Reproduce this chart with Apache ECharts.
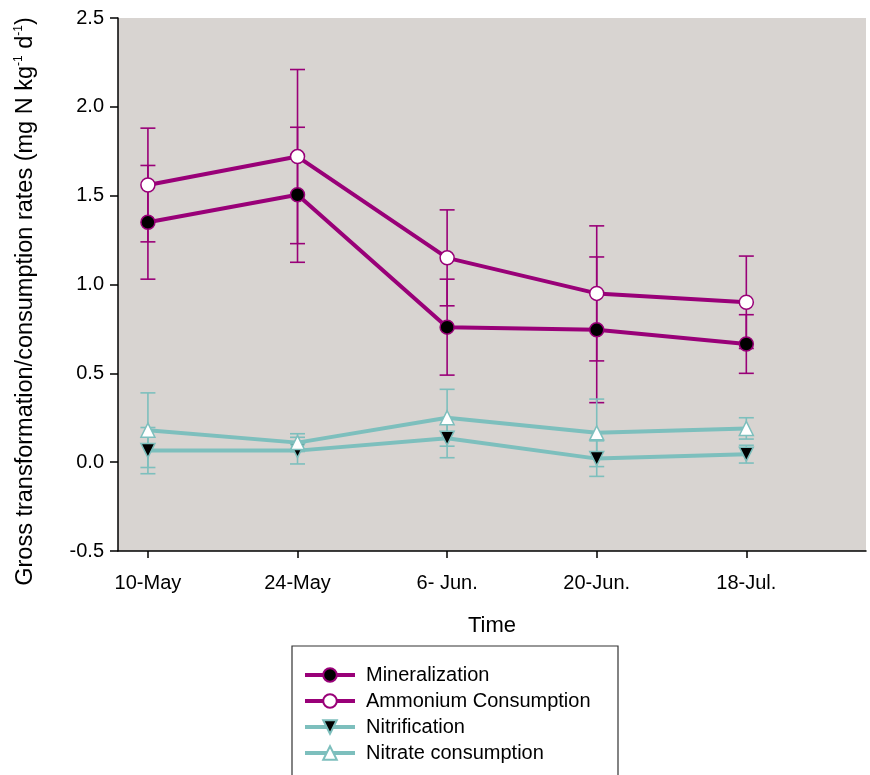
<!DOCTYPE html>
<html>
<head>
<meta charset="utf-8">
<script src="https://cdn.jsdelivr.net/npm/echarts@6/dist/echarts.min.js"></script>
<style>html,body{margin:0;padding:0;background:#fff;}#c{width:870px;height:775px;}</style>
</head>
<body>
<div id="c"></div>
<script>
const categories = ['10-May', '24-May', '6- Jun.', '20-Jun.', '18-Jul.'];
const yTicks = [-0.5, 0, 0.5, 1.0, 1.5, 2.0, 2.5];

const mineralization = [1.35, 1.505, 0.76, 0.745, 0.665];
const mineralizationErr = [0.32, 0.38, 0.27, 0.41, 0.165];
const ammonium = [1.56, 1.72, 1.15, 0.95, 0.90];
const ammoniumErr = [0.32, 0.49, 0.27, 0.38, 0.26];
const nitrification = [0.065, 0.065, 0.135, 0.02, 0.045];
const nitrificationErr = [0.13, 0.075, 0.11, 0.10, 0.05];
const nitrate = [0.18, 0.11, 0.25, 0.165, 0.19];
const nitrateErr = [0.21, 0.05, 0.16, 0.19, 0.06];

const MAG = '#990078';
const CYAN = '#7dbfbd';
const FONT = '"Liberation Sans", Arial, sans-serif';

function errSeries(id, values, errs, color) {
  return {
    type: 'custom',
    name: id,
    silent: true,
    z: 1,
    data: values.map((v, i) => [i, v - errs[i], v + errs[i]]),
    encode: { x: 0, y: [1, 2] },
    renderItem: function (params, api) {
      const x = api.value(0);
      const lo = api.coord([x, api.value(1)]);
      const hi = api.coord([x, api.value(2)]);
      const hw = 7.5;
      const st = { stroke: color, lineWidth: 1.6 };
      return {
        type: 'group',
        children: [
          { type: 'line', shape: { x1: lo[0], y1: lo[1], x2: hi[0], y2: hi[1] }, style: st },
          { type: 'line', shape: { x1: lo[0] - hw, y1: lo[1], x2: lo[0] + hw, y2: lo[1] }, style: st },
          { type: 'line', shape: { x1: hi[0] - hw, y1: hi[1], x2: hi[0] + hw, y2: hi[1] }, style: st }
        ]
      };
    }
  };
}

function lineSeries(name, values, color, symbol, fill, rotate) {
  return {
    type: 'line',
    name: name,
    z: 3,
    data: values.map((v, i) => [i, v]),
    symbol: symbol,
    symbolSize: 14,
    symbolRotate: rotate || 0,
    showAllSymbol: true,
    lineStyle: { color: color, width: 4 },
    itemStyle: { color: fill, borderColor: color, borderWidth: 1.5 },
    emphasis: { disabled: true },
    animation: false
  };
}

const chart = echarts.init(document.getElementById('c'), null, { renderer: 'canvas' });
chart.setOption({
  backgroundColor: '#ffffff',
  animation: false,
  textStyle: { fontFamily: FONT },
  grid: {
    left: 118, right: 4, top: 18, bottom: 224,
    containLabel: false,
    outerBoundsMode: 'none',
    show: true, backgroundColor: '#d8d4d1', borderWidth: 0
  },
  xAxis: {
    type: 'value',
    min: -0.2, max: 4.8,
    name: 'Time',
    nameLocation: 'middle',
    nameGap: 64,
    nameTextStyle: { fontSize: 22, color: '#000', fontFamily: FONT },
    axisLine: { show: true, onZero: false, lineStyle: { color: '#000', width: 1.5 } },
    axisTick: { show: true, length: 7, customValues: [0, 1, 2, 3, 4], lineStyle: { color: '#000', width: 1.5 } },
    axisLabel: {
      customValues: [0, 1, 2, 3, 4],
      formatter: v => categories[Math.round(v)] || '',
      fontSize: 20, color: '#000', margin: 22, fontFamily: FONT
    },
    splitLine: { show: false }
  },
  yAxis: {
    type: 'value',
    min: yTicks[0], max: yTicks[yTicks.length - 1], interval: 0.5,
    name: 'Gross transformation/consumption rates (mg N kg{sup|-1} d{sup|-1})',
    nameLocation: 'middle',
    nameRotate: 90,
    nameGap: 80,
    nameTextStyle: {
      fontSize: 23.5, color: '#000', fontFamily: FONT, lineHeight: 25,
      padding: [0, 34, 0, 0],
      rich: { sup: { fontSize: 12, color: '#000', verticalAlign: 'top', fontFamily: FONT, lineHeight: 12 } }
    },
    axisLine: { show: true, onZero: false, lineStyle: { color: '#000', width: 1.5 } },
    axisTick: { show: true, length: 8, lineStyle: { color: '#000', width: 1.5 } },
    axisLabel: { formatter: v => v.toFixed(1), fontSize: 20, color: '#000', margin: 14, fontFamily: FONT },
    splitLine: { show: false }
  },
  legend: {
    orient: 'vertical',
    left: 298, top: 660,
    height: 200,
    data: ['Mineralization', 'Ammonium Consumption', 'Nitrification', 'Nitrate consumption'],
    itemWidth: 50, itemHeight: 17, itemGap: 6,
    lineStyle: { width: 4 },
    textStyle: { fontSize: 20, lineHeight: 20, color: '#000', fontFamily: FONT, padding: [0, 0, 0, 6] },
    selectedMode: false
  },
  graphic: [{
    type: 'rect',
    shape: { x: 292, y: 646, width: 326, height: 160 },
    style: { fill: 'none', stroke: '#333', lineWidth: 1.2 },
    z: 0
  }],
  series: [
    errSeries('err-min', mineralization, mineralizationErr, MAG),
    errSeries('err-amm', ammonium, ammoniumErr, MAG),
    errSeries('err-nitrif', nitrification, nitrificationErr, CYAN),
    errSeries('err-nitrate', nitrate, nitrateErr, CYAN),
    lineSeries('Nitrification', nitrification, CYAN, 'triangle', '#000', 180),
    lineSeries('Nitrate consumption', nitrate, CYAN, 'triangle', '#fff', 0),
    lineSeries('Mineralization', mineralization, MAG, 'circle', '#000', 0),
    lineSeries('Ammonium Consumption', ammonium, MAG, 'circle', '#fff', 0)
  ]
});
</script>
</body>
</html>
